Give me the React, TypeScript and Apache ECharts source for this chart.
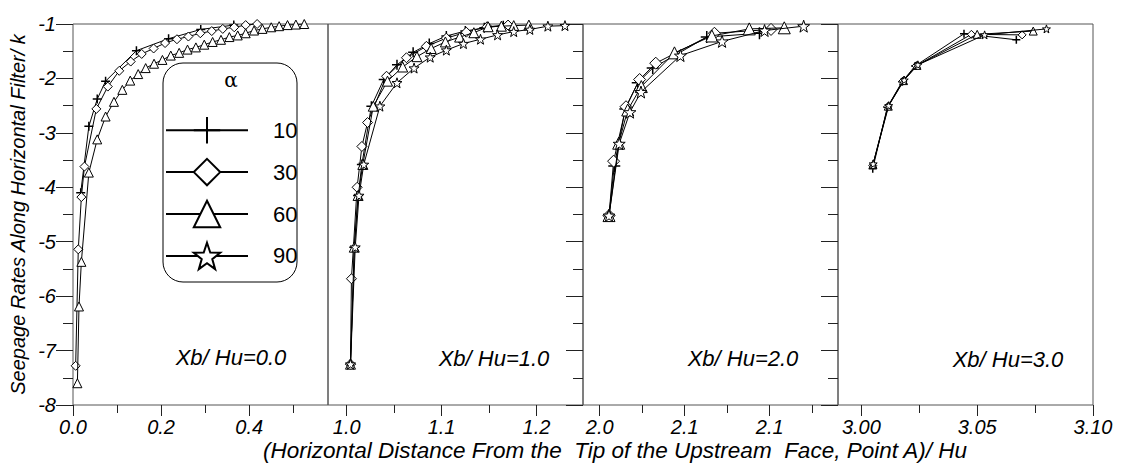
import React, { useEffect, useRef } from "react";
import * as echarts from "echarts";

// ---------- data ----------
const alphaNames = ["10", "30", "60", "90"];
const panelTitles = ["Xb/ Hu=0.0", "Xb/ Hu=1.0", "Xb/ Hu=2.0", "Xb/ Hu=3.0"];

// Panel 1 (Xb/Hu = 0.0)
const p1a10 = [[0.0175, -4.1], [0.036, -2.88], [0.055, -2.38], [0.074, -2.05], [0.144, -1.49], [0.217, -1.27], [0.29, -1.1], [0.365, -1.02]];
const p1a30 = [[0.006, -7.28], [0.012, -5.14], [0.019, -4.18], [0.026, -3.62], [0.053, -2.56], [0.079, -2.15], [0.105, -1.86], [0.131, -1.69], [0.156, -1.55], [0.183, -1.45], [0.209, -1.35], [0.236, -1.28], [0.262, -1.23], [0.289, -1.17], [0.315, -1.13], [0.34, -1.09], [0.366, -1.06], [0.392, -1.02], [0.418, -1.0]];
const p1a60 = [[0.01, -7.6], [0.0136, -6.19], [0.019, -5.37], [0.036, -3.73], [0.055, -3.12], [0.074, -2.7], [0.093, -2.43], [0.112, -2.21], [0.13, -2.04], [0.148, -1.92], [0.165, -1.81], [0.184, -1.73], [0.203, -1.66], [0.222, -1.58], [0.241, -1.53], [0.26, -1.47], [0.279, -1.43], [0.298, -1.38], [0.317, -1.33], [0.336, -1.29], [0.355, -1.24], [0.374, -1.21], [0.392, -1.17], [0.411, -1.12], [0.43, -1.09], [0.45, -1.06], [0.468, -1.04], [0.487, -1.02], [0.506, -1.01], [0.525, -1.0]];
const p1a90: number[][] = [];

// Panel 2 (Xb/Hu = 1.0)
const p2a10 = [[1.004, -7.25], [1.008, -5.1], [1.012, -4.15], [1.016, -3.58], [1.026, -2.51], [1.039, -2.02], [1.053, -1.75], [1.07, -1.52], [1.087, -1.36], [1.105, -1.22], [1.125, -1.13], [1.145, -1.07], [1.165, -1.03]];
const p2a30 = [[1.004, -7.25], [1.005, -5.68], [1.011, -4.0], [1.016, -3.25], [1.022, -2.81], [1.042, -1.96], [1.063, -1.62], [1.084, -1.41], [1.105, -1.26], [1.126, -1.15], [1.148, -1.05], [1.17, -1.02]];
const p2a60 = [[1.004, -7.25], [1.008, -5.1], [1.012, -4.15], [1.017, -3.58], [1.028, -2.51], [1.043, -2.05], [1.059, -1.79], [1.074, -1.6], [1.089, -1.45], [1.104, -1.33], [1.119, -1.24], [1.134, -1.16], [1.149, -1.05], [1.163, -1.04], [1.176, -1.03], [1.192, -1.02]];
const p2a90 = [[1.004, -7.25], [1.009, -5.1], [1.013, -4.15], [1.018, -3.58], [1.035, -2.51], [1.053, -2.08], [1.071, -1.81], [1.088, -1.61], [1.105, -1.48], [1.123, -1.36], [1.141, -1.28], [1.159, -1.2], [1.176, -1.14], [1.193, -1.1], [1.212, -1.04], [1.23, -1.03]];

// Panel 3 (Xb/Hu = 2.0)
const p3a10 = [[2.0055, -4.52], [2.0086, -3.61], [2.0151, -2.56], [2.0224, -2.08], [2.0312, -1.81], [2.063, -1.24], [2.094, -1.17]];
const p3a30 = [[2.0055, -4.52], [2.0082, -3.52], [2.0155, -2.52], [2.0235, -2.02], [2.033, -1.72], [2.0675, -1.17], [2.1008, -1.1]];
const p3a60 = [[2.0055, -4.52], [2.0112, -3.19], [2.0165, -2.58], [2.0245, -2.15], [2.044, -1.53], [2.066, -1.22], [2.088, -1.09], [2.1086, -1.07]];
const p3a90 = [[2.0055, -4.52], [2.0115, -3.2], [2.0178, -2.62], [2.0243, -2.25], [2.0475, -1.58], [2.072, -1.32], [2.097, -1.12], [2.12, -1.04]];

// Panel 4 (Xb/Hu = 3.0)
const p4a10 = [[3.0049, -3.66], [3.0112, -2.53], [3.0176, -2.06], [3.0232, -1.77], [3.0443, -1.18], [3.0669, -1.29]];
const p4a30 = [[3.0049, -3.6], [3.0114, -2.52], [3.0179, -2.05], [3.0236, -1.77], [3.0475, -1.19], [3.0694, -1.2]];
const p4a60 = [[3.005, -3.58], [3.0116, -2.51], [3.0182, -2.04], [3.024, -1.76], [3.05, -1.19], [3.0742, -1.13]];
const p4a90 = [[3.0051, -3.57], [3.0118, -2.5], [3.0185, -2.03], [3.0244, -1.75], [3.0532, -1.2], [3.0799, -1.09]];

const panelData = [
  [p1a10, p1a30, p1a60, p1a90],
  [p2a10, p2a30, p2a60, p2a90],
  [p3a10, p3a30, p3a60, p3a90],
  [p4a10, p4a30, p4a60, p4a90],
];

// axes
const xMins = [0, 0.9803, 1.9902, 2.9899];
const xMaxs = [0.5789, 1.249, 2.1402, 3.1];
const xMajorTicks = [[0, 0.2, 0.4], [1.0, 1.1, 1.2], [2.0, 2.05, 2.1], [3.0, 3.05, 3.1]];
const xTickLabels = [["0.0", "0.2", "0.4"], ["1.0", "1.1", "1.2"], ["2.0", "2.1", "2.1"], ["3.00", "3.05", "3.10"]];
const xMinorTicks = [[0.1, 0.3, 0.5], [1.05, 1.15, 1.25], [2.025, 2.075, 2.125], [3.025, 3.075]];
const yMin = -8;
const yMax = -1;
const yTitle = "Seepage Rates Along Horizontal Filter/ k";
const xTitle = "(Horizontal Distance From the  Tip of the Upstream  Face, Point A)/ Hu";
const legendTitle = "α";

// ---------- styling ----------
const FONT = "'Liberation Sans', Arial, sans-serif";
const PLUS = "path://M0,5L10,5M5,0L5,10";
const STAR = "path://M10,0L12.35,6.76L19.51,6.91L13.8,11.24L15.88,18.09L10,14L4.12,18.09L6.2,11.24L0.49,6.91L7.65,6.76Z";
const symbols = [PLUS, "diamond", "triangle", STAR];
const gridLefts = [73, 328, 583, 838];
const gridWidth = 255;
const gridTop = 24;
const gridHeight = 381;
const symbolSizes = [9, 10, 12, 8];
const titlePos = [[231, 357], [494, 358], [743, 358], [1008, 359]];

function labelFor(p: number, v: number) {
  const ticks = xMajorTicks[p];
  for (let i = 0; i < ticks.length; i++) {
    if (Math.abs(ticks[i] - v) < 1e-6) return xTickLabels[p][i];
  }
  return "";
}

function buildOption() {
  const grid: any[] = [];
  const xAxis: any[] = [];
  const yAxis: any[] = [];
  const series: any[] = [];
  for (let p = 0; p < 4; p++) {
    grid.push({
      left: gridLefts[p],
      top: gridTop,
      width: gridWidth,
      height: gridHeight,
      show: true,
      borderColor: "#555",
      borderWidth: 1,
      backgroundColor: "transparent",
    });
    xAxis.push({
      type: "value",
      gridIndex: p,
      position: "bottom",
      min: xMins[p],
      max: xMaxs[p],
      axisLine: { show: false },
      splitLine: { show: false },
      axisTick: { show: true, length: 11, customValues: xMajorTicks[p], lineStyle: { color: "#222" } },
      axisLabel: {
        show: true,
        customValues: xMajorTicks[p],
        formatter: (v: number) => labelFor(p, v),
        fontSize: 20,
        fontStyle: "italic",
        fontFamily: FONT,
        color: "#000",
        margin: 12,
      },
    });
    xAxis.push({
      type: "value",
      gridIndex: p,
      position: "bottom",
      min: xMins[p],
      max: xMaxs[p],
      axisLine: { show: false },
      splitLine: { show: false },
      axisTick: { show: true, length: 8, customValues: xMinorTicks[p], lineStyle: { color: "#222" } },
      axisLabel: { show: false },
    });
    yAxis.push({
      type: "value",
      gridIndex: p,
      position: "left",
      min: yMin,
      max: yMax,
      interval: 1,
      show: p === 0,
      axisLine: { show: false },
      splitLine: { show: false },
      axisTick: { show: true, length: 15, lineStyle: { color: "#222" } },
      minorTick: { show: true, splitNumber: 2, length: 10, lineStyle: { color: "#222" } },
      axisLabel: { show: true, fontSize: 20, fontStyle: "italic", fontFamily: FONT, color: "#000", margin: 17 },
      name: p === 0 ? yTitle : "",
      nameLocation: "middle",
      nameGap: 45,
      nameTextStyle: { fontSize: 20, fontStyle: "italic", fontFamily: FONT, color: "#000" },
    });
    yAxis.push({
      type: "value",
      gridIndex: p,
      position: "right",
      min: yMin,
      max: yMax,
      interval: 1,
      show: p < 3,
      axisLine: { show: false },
      splitLine: { show: false },
      axisTick: { show: true, inside: true, length: 17, lineStyle: { color: "#222" } },
      minorTick: { show: true, splitNumber: 2, length: 10, lineStyle: { color: "#222" } },
      axisLabel: { show: false },
    });
    for (let s = 0; s < 4; s++) {
      const data = panelData[p][s];
      if (!data.length) continue;
      series.push({
        type: "line",
        name: alphaNames[s],
        xAxisIndex: p * 2,
        yAxisIndex: p * 2,
        data,
        symbol: symbols[s],
        symbolSize: symbolSizes[p],
        showSymbol: true,
        showAllSymbol: true,
        lineStyle: { color: "#000", width: 1 },
        itemStyle: { color: "#fff", borderColor: "#000", borderWidth: s === 0 ? 1.5 : 1 },
        z: 2 + s,
      });
    }
  }

  const graphic: any[] = [
    {
      type: "rect",
      shape: { x: 163, y: 63, width: 134, height: 219, r: 20 },
      style: { fill: "none", stroke: "#000", lineWidth: 1 },
      z: 10,
    },
    {
      type: "text",
      x: 231,
      y: 80,
      style: { text: legendTitle, fontSize: 20, fontFamily: "'DejaVu Serif', 'Liberation Serif', serif", fill: "#000", textAlign: "center", textVerticalAlign: "middle" },
      z: 10,
    },
    {
      type: "text",
      x: 615,
      y: 450,
      style: { text: xTitle, fontSize: 22.5, fontStyle: "italic", fontFamily: FONT, fill: "#000", textAlign: "center", textVerticalAlign: "middle" },
    },
  ];
  for (let p = 0; p < 4; p++) {
    graphic.push({
      type: "text",
      x: titlePos[p][0],
      y: titlePos[p][1],
      style: { text: panelTitles[p], fontSize: 22, fontStyle: "italic", fontFamily: FONT, fill: "#000", textAlign: "center", textVerticalAlign: "middle" },
    });
  }

  return {
    animation: false,
    backgroundColor: "#fff",
    grid,
    xAxis,
    yAxis,
    series,
    legend: {
      data: alphaNames,
      orient: "vertical",
      left: 165,
      top: 116,
      itemWidth: 82,
      itemHeight: 33,
      itemGap: 13.5,
      padding: 0,
      selectedMode: false,
      textStyle: { fontSize: 22, fontFamily: FONT, color: "#000", padding: [0, 0, 0, 20] },
    },
    graphic,
  };
}

export default function App() {
  const ref = useRef<HTMLDivElement>(null);
  useEffect(() => {
    if (!ref.current) return;
    const chart = echarts.init(ref.current, undefined, { renderer: "svg" });
    chart.setOption(buildOption() as any);
    return () => chart.dispose();
  }, []);
  return (
    <div
      ref={ref}
      style={{ position: "absolute", left: 0, top: 0, width: 1121, height: 472, background: "#fff" }}
    />
  );
}
